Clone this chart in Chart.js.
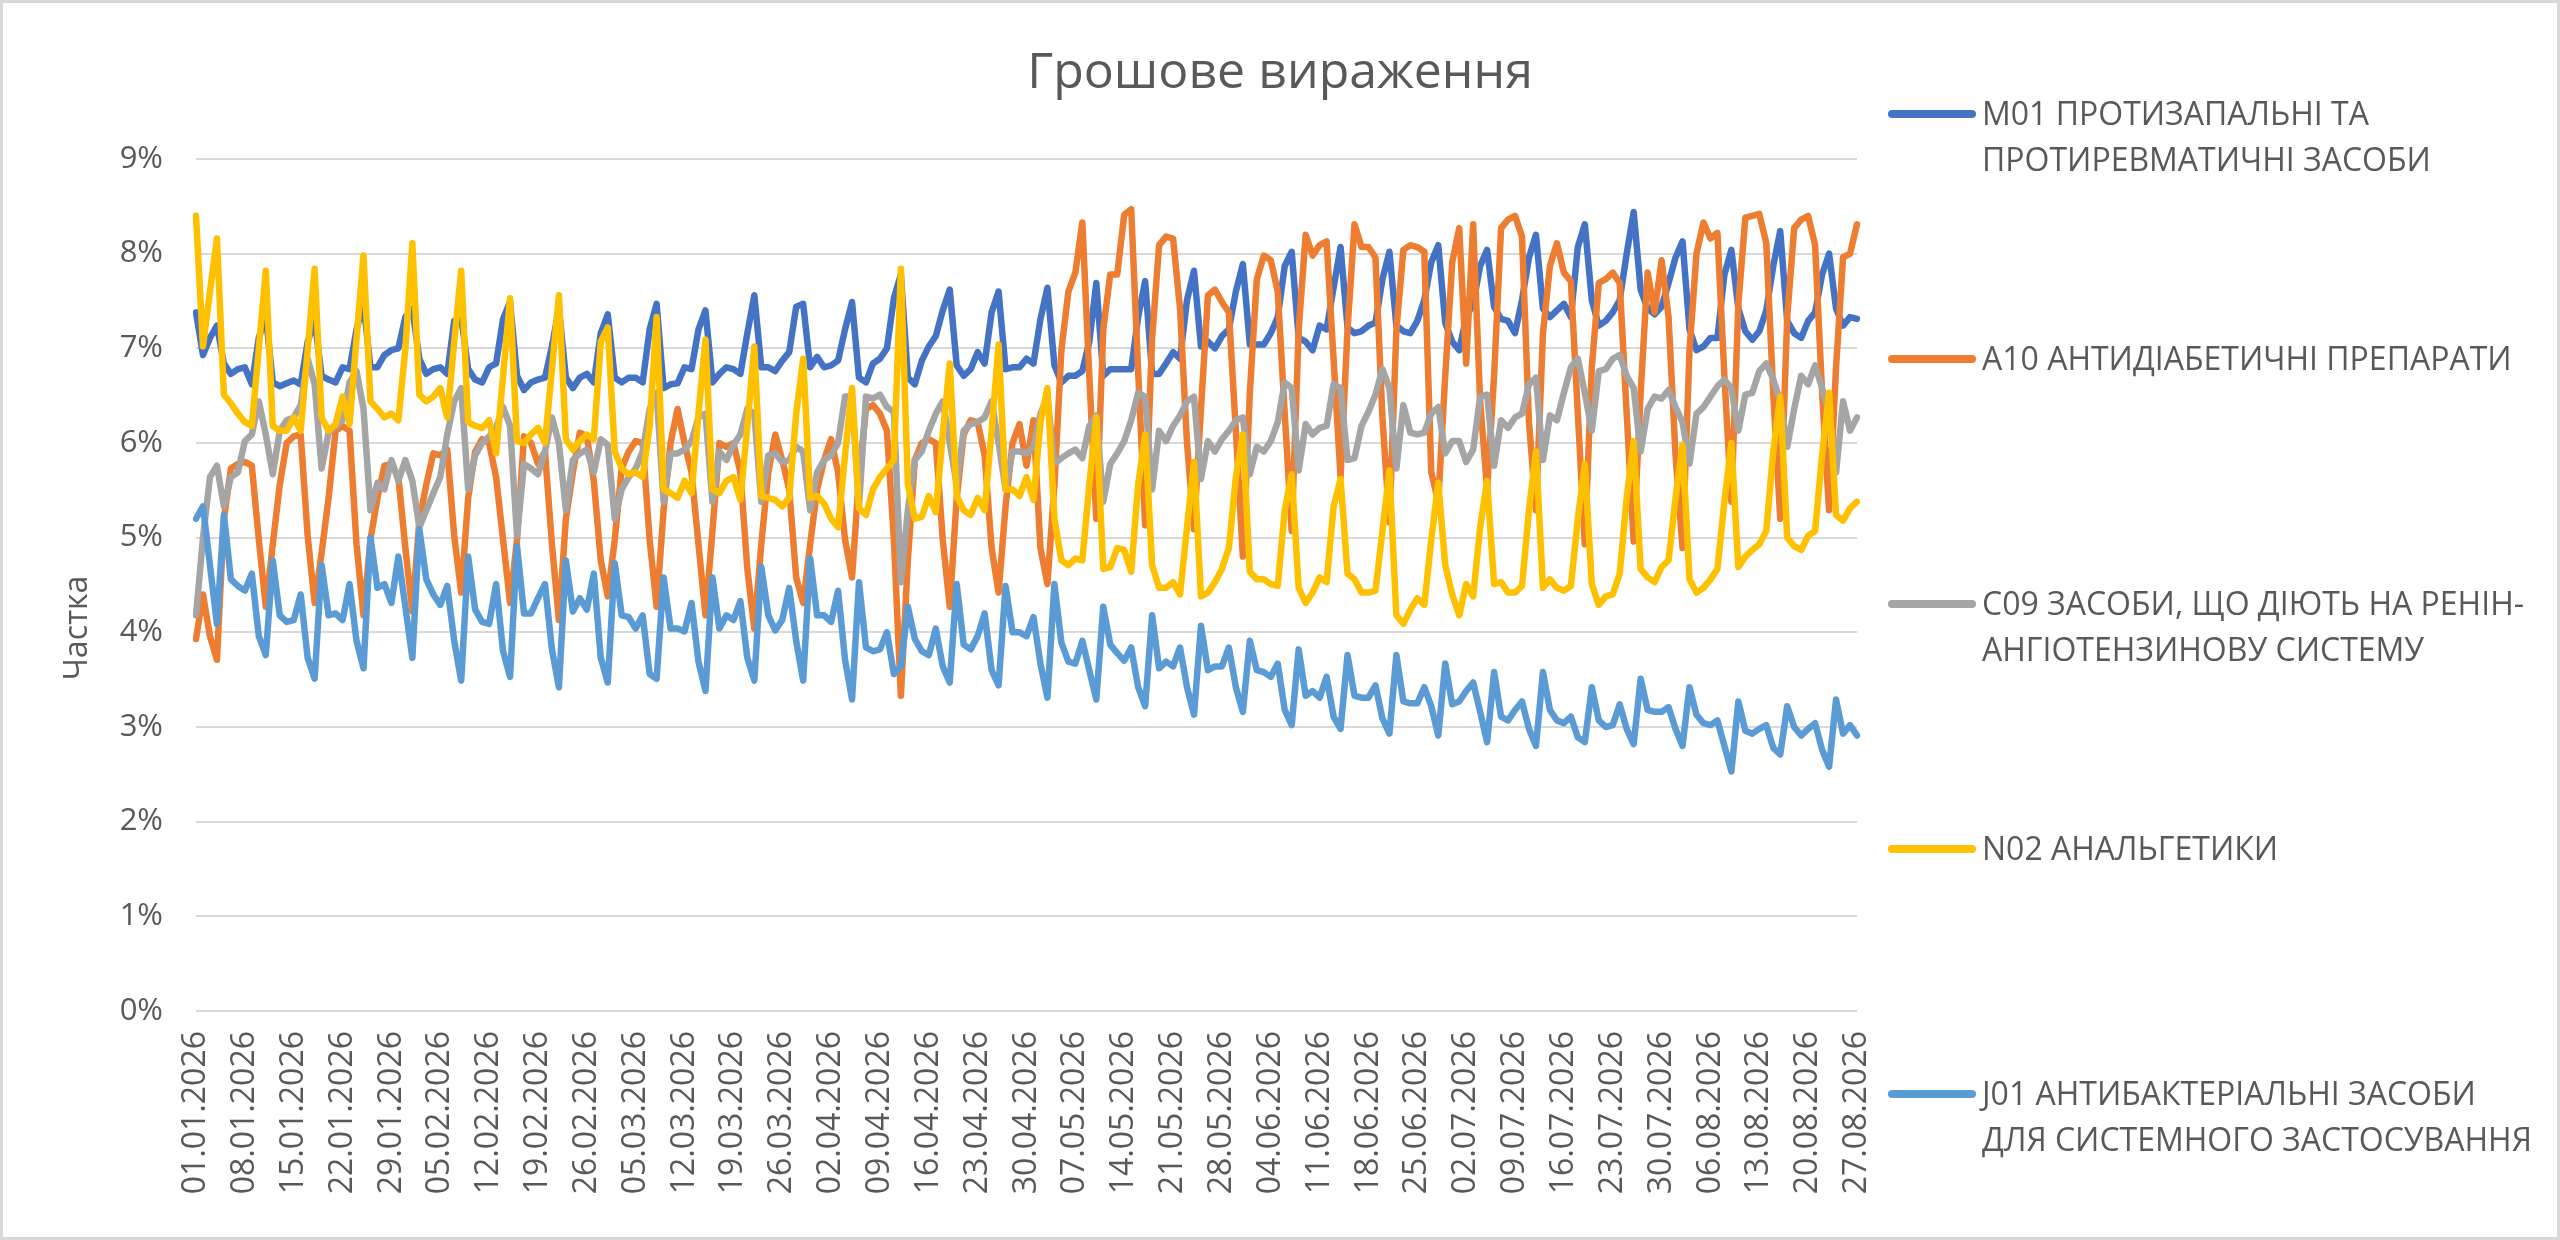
<!DOCTYPE html>
<html lang="uk">
<head>
<meta charset="UTF-8" />
<title>Грошове вираження</title>
<script src="https://cdn.jsdelivr.net/npm/chart.js@4.4.1/dist/chart.umd.min.js"></script>
<style>
  html, body { margin: 0; padding: 0; background: #fff; }
  canvas { display: block; }
</style>
</head>
<body>
<canvas id="chart" width="2560" height="1240"></canvas>
<script>
  // daily shares, 01.01.2026 .. 27.08.2026 (percent)
  const startDate = [2026, 0, 1];
  const dayCount = 239;

  const m01 = [
    7.38, 6.93, 7.11, 7.24, 6.84, 6.73, 6.78, 6.80, 6.62, 7.11, 7.35, 6.64, 6.60, 6.63, 6.66, 6.62, 7.07, 7.30, 6.71, 6.67,
    6.64, 6.80, 6.78, 7.20, 7.47, 6.80, 6.80, 6.93, 6.98, 7.00,
    7.33, 7.42, 6.89, 6.73, 6.78, 6.80, 6.73, 7.29, 7.33, 6.78, 6.67, 6.64, 6.80, 6.84, 7.31, 7.49, 6.71, 6.56, 6.64, 6.67,
    6.69, 7.02, 7.42, 6.69, 6.58, 6.69, 6.73, 6.64, 7.16, 7.36, 6.69, 6.64, 6.69,
    6.69, 6.64, 7.20, 7.47, 6.58, 6.62, 6.63, 6.80, 6.78, 7.20, 7.40, 6.64, 6.73, 6.80, 6.78, 6.73, 7.16, 7.56, 6.80, 6.80,
    6.76, 6.87, 6.96, 7.44, 7.47, 6.80, 6.91, 6.80, 6.82, 6.87, 7.20, 7.49, 6.69, 6.64, 6.84,
    6.89, 7.00, 7.53, 7.78, 6.69, 6.62, 6.87, 7.02, 7.13, 7.40, 7.62, 6.82, 6.71, 6.78, 6.96, 6.84, 7.38, 7.60, 6.78, 6.80,
    6.80, 6.89, 6.84, 7.31, 7.64, 6.82, 6.64, 6.71, 6.71, 6.76, 7.07, 7.69, 6.71, 6.78, 6.78,
    6.78, 6.78, 7.33, 7.71, 6.73, 6.73, 6.84, 6.96, 6.89, 7.51, 7.82, 7.02, 7.07, 7.00, 7.13, 7.20, 7.60, 7.89, 7.04, 7.04,
    7.04, 7.16, 7.33, 7.87, 8.02, 7.11, 7.07, 6.98, 7.24, 7.20, 7.64, 8.07, 7.22, 7.16, 7.18,
    7.24, 7.27, 7.73, 8.02, 7.24, 7.18, 7.16, 7.29, 7.51, 7.91, 8.09, 7.27, 7.07, 6.98, 7.33, 7.47, 7.87, 8.04, 7.44, 7.31,
    7.29, 7.16, 7.51, 7.96, 8.20, 7.42, 7.33, 7.40, 7.47, 7.33, 8.07, 8.31, 7.51, 7.24, 7.29,
    7.38, 7.51, 8.00, 8.44, 7.62, 7.42, 7.36, 7.44, 7.69, 7.96, 8.13, 7.20, 6.98, 7.02, 7.11, 7.11, 7.78, 8.04, 7.42, 7.18,
    7.09, 7.18, 7.40, 7.87, 8.24, 7.29, 7.16, 7.11, 7.29, 7.38, 7.78, 8.00, 7.42, 7.24, 7.33, 7.31
  ];

  const a10 = [
    3.93, 4.40, 3.96, 3.71, 5.20, 5.73, 5.78, 5.80, 5.76, 4.98, 4.27, 4.93, 5.56, 6.00, 6.07, 6.09, 5.02, 4.31, 4.84, 5.42,
    6.13, 6.18, 6.13, 4.93, 4.18, 4.98, 5.42, 5.76, 5.78, 5.64,
    4.89, 4.22, 5.18, 5.56, 5.89, 5.87, 5.93, 5.02, 4.42, 5.42, 5.91, 6.04, 6.00, 5.64, 4.98, 4.31, 4.98, 6.07, 6.00, 5.78,
    5.91, 4.93, 4.13, 5.20, 5.69, 6.11, 6.07, 5.60, 4.76, 4.38, 4.98, 5.73, 5.91,
    6.02, 6.00, 4.98, 4.27, 5.29, 6.00, 6.36, 6.00, 5.69, 4.93, 4.18, 5.07, 6.00, 5.96, 6.00, 5.69, 4.67, 4.04, 4.93, 5.69,
    6.09, 5.82, 5.51, 4.58, 4.31, 4.93, 5.51, 5.82, 6.04, 5.69, 4.98, 4.58, 5.64, 6.36, 6.40,
    6.31, 6.13, 4.98, 3.33, 4.76, 5.82, 6.00, 6.04, 6.00, 4.98, 4.27, 5.42, 6.09, 6.24, 6.22, 5.87, 4.89, 4.42, 5.33, 6.00,
    6.20, 5.76, 6.24, 4.89, 4.51, 5.56, 6.98, 7.60, 7.80, 8.33, 6.71, 5.20, 7.20, 7.78, 7.78,
    8.41, 8.47, 6.76, 5.13, 7.11, 8.09, 8.18, 8.16, 7.42, 6.00, 5.09, 6.36, 7.56, 7.62, 7.49, 7.38, 6.13, 4.80, 6.53, 7.73,
    7.98, 7.93, 7.60, 6.31, 5.07, 7.20, 8.20, 7.98, 8.09, 8.13, 6.89, 5.64, 7.20, 8.31, 8.07,
    8.07, 7.96, 6.27, 5.16, 7.20, 8.04, 8.09, 8.07, 8.02, 5.69, 5.38, 6.71, 7.91, 8.27, 6.84, 8.31, 6.44, 5.51, 6.71, 8.27,
    8.36, 8.40, 8.18, 6.22, 5.29, 7.16, 7.87, 8.11, 7.80, 7.71, 6.31, 4.93, 6.80, 7.69, 7.73,
    7.80, 7.69, 6.31, 4.96, 6.53, 7.80, 7.38, 7.93, 7.33, 5.87, 4.89, 6.98, 8.00, 8.33, 8.16, 8.22, 6.71, 5.38, 7.47, 8.38,
    8.40, 8.42, 8.11, 6.53, 5.20, 7.33, 8.27, 8.36, 8.40, 8.09, 6.53, 5.29, 6.80, 7.96, 8.00, 8.31
  ];

  const c09 = [
    4.18, 5.00, 5.64, 5.76, 5.33, 5.64, 5.69, 6.02, 6.09, 6.44, 6.09, 5.67, 6.13, 6.24, 6.27, 6.40, 6.89, 6.62, 5.73, 6.11,
    6.18, 6.24, 6.64, 6.76, 6.36, 5.29, 5.58, 5.51, 5.82, 5.60,
    5.82, 5.60, 5.11, 5.29, 5.47, 5.64, 6.09, 6.44, 6.58, 5.51, 5.87, 6.00, 6.07, 6.16, 6.38, 6.18, 5.02, 5.78, 5.73, 5.67,
    5.91, 6.27, 6.00, 5.29, 5.82, 5.89, 5.93, 5.69, 6.04, 5.98, 5.20, 5.51, 5.64,
    5.73, 5.91, 6.36, 6.53, 5.38, 5.89, 5.89, 5.93, 6.02, 6.27, 6.31, 5.38, 5.91, 5.82, 5.98, 6.09, 6.36, 6.31, 5.38, 5.87,
    5.89, 5.80, 5.82, 5.96, 5.91, 5.29, 5.69, 5.82, 5.87, 6.00, 6.49, 6.49, 5.33, 6.49, 6.47,
    6.51, 6.38, 6.33, 4.53, 5.29, 5.82, 5.91, 6.13, 6.31, 6.44, 6.00, 5.56, 6.13, 6.20, 6.22, 6.27, 6.44, 6.00, 5.51, 5.91,
    5.91, 5.89, 5.96, 6.31, 6.49, 5.78, 5.84, 5.89, 5.93, 5.84, 6.18, 6.29, 5.38, 5.78, 5.89,
    6.02, 6.24, 6.53, 6.49, 5.51, 6.13, 6.02, 6.18, 6.29, 6.44, 6.49, 5.62, 6.02, 5.91, 6.04, 6.13, 6.24, 6.27, 5.67, 5.96,
    5.91, 6.02, 6.22, 6.64, 6.58, 5.71, 6.20, 6.09, 6.16, 6.18, 6.62, 6.58, 5.82, 5.84, 6.18,
    6.33, 6.51, 6.78, 6.58, 5.73, 6.40, 6.11, 6.09, 6.11, 6.31, 6.38, 5.89, 6.02, 6.02, 5.80, 5.93, 6.49, 6.51, 5.76, 6.24,
    6.16, 6.27, 6.31, 6.62, 6.69, 5.82, 6.29, 6.24, 6.53, 6.80, 6.89, 6.53, 6.13, 6.76, 6.78,
    6.89, 6.93, 6.71, 6.58, 5.91, 6.36, 6.49, 6.47, 6.56, 6.38, 6.22, 5.78, 6.31, 6.38, 6.49, 6.60, 6.67, 6.58, 6.13, 6.51,
    6.53, 6.76, 6.84, 6.67, 6.44, 5.96, 6.36, 6.71, 6.62, 6.82, 6.58, 6.31, 5.69, 6.44, 6.13, 6.27
  ];

  const n02 = [
    8.40, 7.02, 7.60, 8.16, 6.51, 6.42, 6.31, 6.22, 6.18, 7.00, 7.82, 6.18, 6.13, 6.13, 6.27, 6.13, 6.98, 7.84, 6.27, 6.13,
    6.20, 6.49, 6.20, 7.10, 7.98, 6.44, 6.36, 6.27, 6.31, 6.24,
    7.00, 8.11, 6.51, 6.44, 6.49, 6.58, 6.27, 7.07, 7.82, 6.22, 6.18, 6.16, 6.24, 5.89, 6.71, 7.53, 6.02, 6.00, 6.09, 6.16,
    6.00, 6.78, 7.56, 6.04, 5.93, 6.02, 6.09, 6.04, 7.07, 7.22, 5.91, 5.73, 5.67,
    5.69, 5.64, 6.18, 7.33, 5.51, 5.47, 5.42, 5.60, 5.47, 6.31, 7.09, 5.51, 5.47, 5.60, 5.64, 5.40, 6.18, 7.02, 5.44, 5.42,
    5.40, 5.33, 5.42, 6.31, 6.89, 5.42, 5.44, 5.36, 5.20, 5.11, 5.87, 6.58, 5.31, 5.24, 5.51,
    5.64, 5.73, 5.82, 7.84, 5.56, 5.20, 5.22, 5.44, 5.27, 6.09, 6.84, 5.44, 5.29, 5.24, 5.42, 5.29, 6.13, 7.04, 5.51, 5.51,
    5.44, 5.64, 5.40, 6.22, 6.58, 5.20, 4.76, 4.71, 4.78, 4.76, 5.56, 6.27, 4.67, 4.69, 4.89,
    4.87, 4.64, 5.56, 6.09, 4.71, 4.47, 4.47, 4.53, 4.40, 5.11, 5.80, 4.38, 4.42, 4.53, 4.67, 4.89, 5.64, 6.09, 4.64, 4.56,
    4.56, 4.51, 4.49, 5.29, 5.67, 4.47, 4.31, 4.42, 4.58, 4.53, 5.33, 5.62, 4.62, 4.56, 4.42,
    4.42, 4.44, 5.07, 5.71, 4.18, 4.09, 4.24, 4.36, 4.29, 4.98, 5.58, 4.71, 4.40, 4.18, 4.51, 4.38, 5.11, 5.60, 4.51, 4.53,
    4.42, 4.42, 4.49, 5.29, 5.91, 4.47, 4.56, 4.47, 4.44, 4.49, 5.20, 5.78, 4.51, 4.29, 4.38,
    4.40, 4.62, 5.42, 6.02, 4.67, 4.58, 4.53, 4.69, 4.76, 5.42, 5.98, 4.56, 4.42, 4.47, 4.56, 4.67, 5.38, 6.00, 4.69, 4.80,
    4.87, 4.93, 5.07, 5.91, 6.49, 5.00, 4.91, 4.87, 5.02, 5.07, 5.87, 6.53, 5.24, 5.18, 5.31, 5.38
  ];

  const j01 = [
    5.20, 5.33, 4.71, 4.09, 5.24, 4.56, 4.49, 4.44, 4.62, 3.96, 3.76, 4.76, 4.18, 4.11, 4.13, 4.40, 3.73, 3.51, 4.71, 4.18,
    4.20, 4.13, 4.51, 3.91, 3.62, 5.00, 4.47, 4.51, 4.31, 4.80,
    4.27, 3.73, 5.09, 4.56, 4.40, 4.29, 4.49, 3.91, 3.49, 4.80, 4.24, 4.11, 4.09, 4.51, 3.80, 3.53, 4.91, 4.20, 4.20, 4.36,
    4.51, 3.82, 3.42, 4.76, 4.22, 4.36, 4.24, 4.62, 3.73, 3.47, 4.73, 4.18, 4.16,
    4.04, 4.18, 3.56, 3.51, 4.58, 4.04, 4.04, 4.01, 4.31, 3.69, 3.38, 4.58, 4.04, 4.18, 4.13, 4.33, 3.73, 3.49, 4.69, 4.18,
    4.02, 4.13, 4.47, 3.91, 3.49, 4.78, 4.18, 4.18, 4.11, 4.44, 3.71, 3.29, 4.53, 3.84, 3.80,
    3.82, 4.00, 3.56, 3.64, 4.27, 3.93, 3.80, 3.76, 4.04, 3.64, 3.47, 4.51, 3.87, 3.82, 3.96, 4.20, 3.60, 3.44, 4.49, 4.00,
    4.00, 3.96, 4.16, 3.67, 3.31, 4.51, 3.89, 3.69, 3.67, 3.91, 3.60, 3.29, 4.27, 3.87, 3.78,
    3.70, 3.84, 3.42, 3.22, 4.18, 3.62, 3.69, 3.64, 3.84, 3.42, 3.13, 4.07, 3.60, 3.64, 3.64, 3.84, 3.42, 3.16, 3.91, 3.60,
    3.58, 3.53, 3.67, 3.18, 3.02, 3.82, 3.33, 3.38, 3.31, 3.53, 3.11, 2.98, 3.76, 3.33, 3.31,
    3.31, 3.44, 3.09, 2.93, 3.76, 3.27, 3.25, 3.25, 3.42, 3.22, 2.91, 3.67, 3.24, 3.27, 3.38, 3.47, 3.16, 2.84, 3.58, 3.11,
    3.07, 3.18, 3.27, 2.98, 2.80, 3.58, 3.18, 3.07, 3.04, 3.11, 2.89, 2.84, 3.42, 3.07, 3.00,
    3.02, 3.24, 2.98, 2.82, 3.51, 3.18, 3.16, 3.16, 3.21, 2.98, 2.80, 3.42, 3.13, 3.04, 3.02, 3.07, 2.80, 2.53, 3.27, 2.96,
    2.93, 2.98, 3.02, 2.78, 2.71, 3.22, 3.00, 2.91, 2.98, 3.04, 2.76, 2.58, 3.29, 2.93, 3.02, 2.91
  ];

  const seriesNames = [
    ['M01 ПРОТИЗАПАЛЬНІ ТА', 'ПРОТИРЕВМАТИЧНІ ЗАСОБИ'],
    ['A10 АНТИДІАБЕТИЧНІ ПРЕПАРАТИ'],
    ['C09 ЗАСОБИ, ЩО ДІЮТЬ НА РЕНІН-', 'АНГІОТЕНЗИНОВУ СИСТЕМУ'],
    ['N02 АНАЛЬГЕТИКИ'],
    ['J01 АНТИБАКТЕРІАЛЬНІ ЗАСОБИ', 'ДЛЯ СИСТЕМНОГО ЗАСТОСУВАННЯ']
  ];
  const seriesColors = ['#4472C4', '#ED7D31', '#A5A5A5', '#FFC000', '#5B9BD5'];
  const seriesData = [m01, a10, c09, n02, j01];

  // category labels dd.mm.yyyy
  const dates = [];
  for (let i = 0; i < dayCount; i++) {
    const d = new Date(Date.UTC(startDate[0], startDate[1], startDate[2] + i));
    const dd = String(d.getUTCDate()).padStart(2, '0');
    const mm = String(d.getUTCMonth() + 1).padStart(2, '0');
    dates.push(dd + '.' + mm + '.' + d.getUTCFullYear());
  }

  const FONT = "'Open Sans', 'Noto Sans', sans-serif";
  const TEXT = '#595959';

  // title, y-axis title, legend and frame drawn like the Excel chart
  const excelDecor = {
    id: 'excelDecor',
    beforeDraw(chart) {
      const ctx = chart.ctx;
      ctx.save();
      ctx.fillStyle = '#ffffff';
      ctx.fillRect(0, 0, chart.width, chart.height);
      ctx.restore();
    },
    afterDraw(chart) {
      const ctx = chart.ctx;
      ctx.save();

      ctx.fillStyle = TEXT;
      ctx.font = '50px ' + FONT;
      ctx.textAlign = 'center';
      ctx.textBaseline = 'alphabetic';
      ctx.fillText('Грошове вираження', 1280, 88);

      ctx.save();
      ctx.translate(78, 628);
      ctx.rotate(-Math.PI / 2);
      ctx.font = '32px ' + FONT;
      ctx.textBaseline = 'middle';
      ctx.fillText('Частка', 0, 0);
      ctx.restore();

      // legend
      const rowY = [114, 359, 604, 849, 1094];
      ctx.font = '32px ' + FONT;
      ctx.textAlign = 'left';
      ctx.textBaseline = 'alphabetic';
      chart.data.datasets.forEach((ds, i) => {
        const y = rowY[i];
        ctx.strokeStyle = ds.borderColor;
        ctx.lineWidth = 8;
        ctx.lineCap = 'round';
        ctx.beginPath();
        ctx.moveTo(1892, y);
        ctx.lineTo(1972, y);
        ctx.stroke();
        ctx.fillStyle = TEXT;
        seriesNames[i].forEach((line, k) => ctx.fillText(line, 1982, y + 11 + k * 46));
      });

      ctx.strokeStyle = '#d9d9d9';
      ctx.lineWidth = 3;
      ctx.strokeRect(1.5, 1.5, chart.width - 3, chart.height - 3);
      ctx.restore();
    }
  };

  const datasets = seriesData.map((data, i) => ({
    label: seriesNames[i].join(' '),
    data: data,
    borderColor: seriesColors[i],
    backgroundColor: seriesColors[i],
    borderWidth: 6.5,
    borderJoinStyle: 'round',
    borderCapStyle: 'round',
    pointRadius: 0,
    pointHoverRadius: 0,
    tension: 0,
    fill: false,
    order: seriesData.length - 1 - i
  }));

  new Chart(document.getElementById('chart'), {
    type: 'line',
    data: { labels: dates, datasets: datasets },
    plugins: [excelDecor],
    options: {
      responsive: false,
      devicePixelRatio: 1,
      animation: false,
      events: [],
      layout: { padding: { left: 0, top: 159, right: 703, bottom: 0 } },
      plugins: {
        legend: { display: false },
        title: { display: false },
        tooltip: { enabled: false }
      },
      scales: {
        x: {
          type: 'category',
          offset: false,
          grid: { display: false },
          border: { display: false },
          ticks: {
            autoSkip: false,
            minRotation: 90,
            maxRotation: 90,
            padding: 12,
            color: TEXT,
            font: { family: FONT, size: 32 },
            callback: (v, i) => (i % 7 === 0 ? dates[i] : null)
          },
          afterFit: (scale) => { scale.height = 229; }
        },
        y: {
          min: 0,
          max: 9,
          grid: { color: '#d9d9d9', lineWidth: 2, drawTicks: false },
          border: { display: false },
          ticks: {
            stepSize: 1,
            padding: 33,
            color: TEXT,
            font: { family: FONT, size: 31 },
            callback: (v) => v + '%'
          },
          afterFit: (scale) => { scale.width = 196; }
        }
      }
    }
  });
</script>
</body>
</html>
